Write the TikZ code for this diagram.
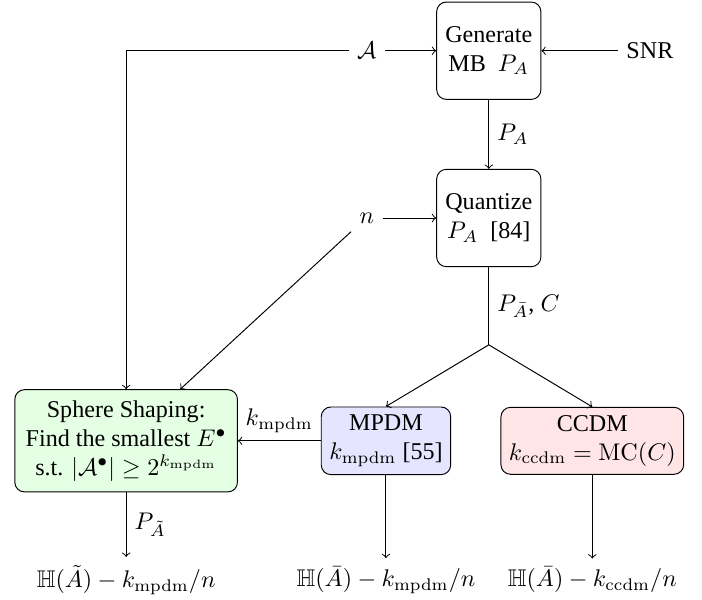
\documentclass[tikz,border=0pt]{standalone}
\usepackage[no-math]{fontspec}
\setmainfont{Liberation Serif}
\usepackage{amsmath}
\usepackage{amssymb}
\usepackage{tikz}

\begin{document}
\begin{tikzpicture}[
    block/.style={draw, rounded corners, align=center},
    bigblock/.style={block, minimum width=1.52cm, minimum height=1.42cm},
    ]
    \useasboundingbox (0,0) rectangle (10.24,8.74);

    \node[bigblock] (gen) at (7.13,8.00) {Generate\\MB~ $P_A$};
    \node[bigblock] (quant) at (7.13,5.56) {Quantize\\$P_A$~ [84]};
    \node (alph) at (5.35,8.00) {$\mathcal{A}$};
    \node (snr) at (9.48,8.00) {SNR};
    \node (len) at (5.35,5.56) {$n$};
    \coordinate (split) at (7.13,3.71);

    \node[block, fill=green!10, inner sep=4.5pt] (sphere) at (1.84,2.31)
        {Sphere Shaping:\\Find the smallest $E^\bullet$\\s.t. $|\mathcal{A}^\bullet| \geq 2^{k_{\mathrm{mpdm}}}$};
    \node[block, fill=blue!10] (mpdm) at (5.63,2.31) {MPDM\\$k_{\mathrm{mpdm}}$ [55]};
    \node[block, fill=red!10] (ccdm) at (8.64,2.31) {CCDM\\$k_{\mathrm{ccdm}} = \mathrm{MC}(C)$};

    \node (outs) at (1.84,0.28) {$\mathbb{H}(\tilde{A}) - k_{\mathrm{mpdm}}/n$};
    \node (outm) at (5.63,0.28) {$\mathbb{H}(\bar{A}) - k_{\mathrm{mpdm}}/n$};
    \node (outc) at (8.64,0.28) {$\mathbb{H}(\bar{A}) - k_{\mathrm{ccdm}}/n$};

    \draw[->] (alph) -- (gen);
    \draw[->] (snr) -- (gen);
    \draw[->] (len) -- (quant);
    \draw[->] (gen) -- node[right] {$P_A$} (quant);
    \draw (quant) -- node[right] {$P_{\bar{A}}$, $C$} (split);
    \draw[->] (split) -- (mpdm.north);
    \draw[->] (split) -- (ccdm.north);

    \draw[->] (alph.west) -| (sphere.north);
    \draw[->] (len.south west) -- (sphere.north -| 2.63,0);
    \draw[->] (mpdm) -- node[above] {$k_{\mathrm{mpdm}}$} (sphere);

    \draw[->] (sphere) -- node[right] {$P_{\tilde{A}}$} (outs);
    \draw[->] (mpdm) -- (outm);
    \draw[->] (ccdm) -- (outc);
\end{tikzpicture}
\end{document}
